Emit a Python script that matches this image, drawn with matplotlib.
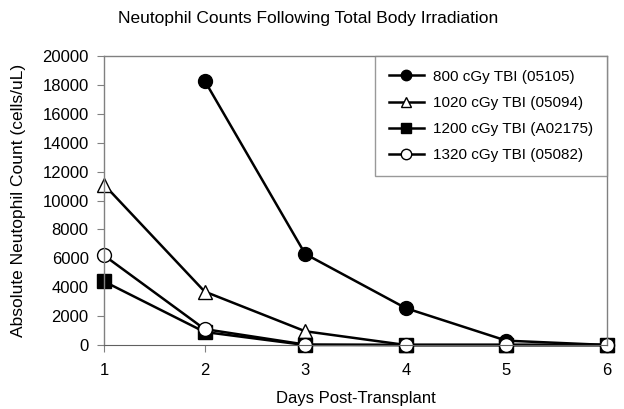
# Neutrophil counts following total body irradiation
import matplotlib
matplotlib.use('Agg')
import matplotlib.pyplot as plt

plt.rcParams['font.family'] = ['Liberation Sans', 'DejaVu Sans']

days = [1, 2, 3, 4, 5, 6]
tbi_800 = [None, 18300, 6300, 2550, 300, 0]
tbi_1020 = [11100, 3700, 950, 0, 0, 0]
tbi_1200 = [4400, 900, 0, 0, 0, 0]
tbi_1320 = [6200, 1100, 30, 0, 0, 0]

labels = ['800 cGy TBI (05105)', '1020 cGy TBI (05094)',
          '1200 cGy TBI (A02175)', '1320 cGy TBI (05082)']
yticks = list(range(0, 20001, 2000))

fig = plt.figure(figsize=(6.24, 4.09), dpi=100)
ax = fig.add_axes([0.1667, 0.1565, 0.806, 0.7065])

def serie(vals):
    xs = [d for d, v in zip(days, vals) if v is not None]
    ys = [v for v in vals if v is not None]
    return xs, ys

estilos = [
    dict(marker='o', mfc='black', mec='black'),
    dict(marker='^', mfc='white', mec='black'),
    dict(marker='s', mfc='black', mec='black'),
    dict(marker='o', mfc='white', mec='black'),
]
for vals, lab, est in zip([tbi_800, tbi_1020, tbi_1200, tbi_1320], labels, estilos):
    xs, ys = serie(vals)
    ax.plot(xs, ys, color='black', lw=1.8, ms=10, mew=1, label=lab,
            clip_on=False, **est)

ax.set_xlim(1, 6)
ax.set_ylim(0, 20000)
ax.set_xticks(days)
ax.set_yticks(yticks)
ax.tick_params(labelsize=12, color='#808080', length=5, direction='out')
ax.tick_params(axis='y', pad=6)
ax.tick_params(axis='x', pad=8)
for s in ['top', 'right', 'left']:
    ax.spines[s].set_color('#808080')
    ax.spines[s].set_linewidth(1)
ax.spines['bottom'].set_color('#606060')

fig.text(0.494, 0.955, 'Neutophil Counts Following Total Body Irradiation',
         fontsize=12.5, ha='center', va='center')
ax.set_xlabel('Days Post-Transplant', fontsize=12, labelpad=9)
ax.set_ylabel('Absolute Neutophil Count (cells/uL)', fontsize=12.5, labelpad=12)

leg = ax.legend(loc='upper right', borderaxespad=0, fontsize=11,
                fancybox=False, edgecolor='#808080', handlelength=2.3,
                handletextpad=0.6, labelspacing=0.8, borderpad=0.9,
                markerscale=0.75)
leg.get_frame().set_linewidth(1)

fig.savefig('out.png', dpi=100)
